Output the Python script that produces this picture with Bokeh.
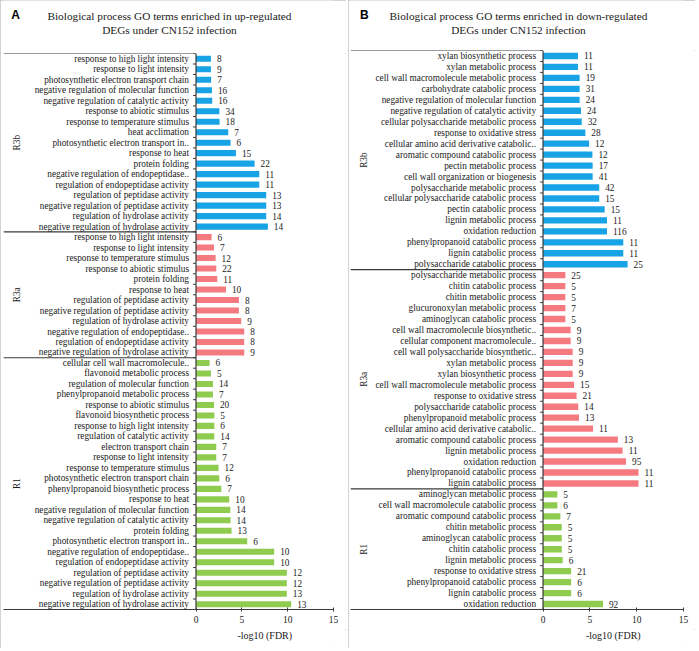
import math
from bokeh.plotting import figure
from bokeh.models import Range1d, FixedTicker, Span
from bokeh.layouts import row, column
from bokeh.embed import file_html
from bokeh.resources import INLINE
from bokeh.core.properties import value

# ---------------- Panel A (up-regulated) ----------------
A_R3b_terms = ["response to high light intensity", "response to light intensity",
               "photosynthetic electron transport chain", "negative regulation of molecular function",
               "negative regulation of catalytic activity", "response to abiotic stimulus",
               "response to temperature stimulus", "heat acclimation",
               "photosynthetic electron transport in..", "response to heat", "protein folding",
               "negative regulation of endopeptidase..", "regulation of endopeptidase activity",
               "regulation of peptidase activity", "negative regulation of peptidase activity",
               "regulation of hydrolase activity", "negative regulation of hydrolase activity"]
A_R3b_fdr = [1.63, 1.63, 1.65, 1.74, 1.77, 2.55, 2.57, 3.52, 3.77, 4.35, 6.39, 6.9, 6.9, 7.66, 7.66, 7.66, 7.84]
A_R3b_count = [8, 9, 7, 16, 16, 34, 18, 7, 6, 15, 22, 11, 11, 13, 13, 14, 14]

A_R3a_terms = ["response to high light intensity", "response to light intensity",
               "response to temperature stimulus", "response to abiotic stimulus", "protein folding",
               "response to heat", "regulation of peptidase activity",
               "negative regulation of peptidase activity", "regulation of hydrolase activity",
               "negative regulation of endopeptidase..", "regulation of endopeptidase activity",
               "negative regulation of hydrolase activity"]
A_R3a_fdr = [1.7, 1.96, 2.14, 2.21, 2.32, 3.27, 4.68, 4.68, 4.93, 5.26, 5.26, 5.26]
A_R3a_count = [6, 7, 12, 22, 11, 10, 8, 8, 9, 8, 8, 9]

A_R1_terms = ["cellular cell wall macromolecule..", "flavonoid metabolic process",
              "regulation of molecular function", "phenylpropanoid metabolic process",
              "response to abiotic stimulus", "flavonoid biosynthetic process",
              "response to high light intensity", "regulation of catalytic activity",
              "electron transport chain", "response to light intensity",
              "response to temperature stimulus", "photosynthetic electron transport chain",
              "phenylpropanoid biosynthetic process", "response to heat",
              "negative regulation of molecular function", "negative regulation of catalytic activity",
              "protein folding", "photosynthetic electron transport in..",
              "negative regulation of endopeptidase..", "regulation of endopeptidase activity",
              "regulation of peptidase activity", "negative regulation of peptidase activity",
              "regulation of hydrolase activity", "negative regulation of hydrolase activity"]
A_R1_fdr = [1.48, 1.63, 1.85, 1.85, 1.96, 2.0, 2.0, 2.0, 2.21, 2.21, 2.46, 2.54, 2.76, 3.63,
            3.74, 3.77, 3.88, 5.59, 8.53, 8.53, 9.91, 9.91, 9.91, 10.38]
A_R1_count = [6, 5, 14, 7, 20, 5, 6, 14, 7, 7, 12, 6, 7, 10, 14, 14, 13, 6, 10, 10, 12, 12, 13, 13]

# ---------------- Panel B (down-regulated) ----------------
B_R3b_terms = ["xylan biosynthetic process", "xylan metabolic process",
               "cell wall macromolecule metabolic process", "carbohydrate catabolic process",
               "negative regulation of molecular function", "negative regulation of catalytic activity",
               "cellular polysaccharide metabolic process", "response to oxidative stress",
               "cellular amino acid derivative catabolic..", "aromatic compound catabolic process",
               "pectin metabolic process", "cell wall organization or biogenesis",
               "polysaccharide metabolic process", "cellular polysaccharide catabolic process",
               "pectin catabolic process", "lignin metabolic process", "oxidation reduction",
               "phenylpropanoid catabolic process", "lignin catabolic process",
               "polysaccharide catabolic process"]
B_R3b_fdr = [3.73, 3.73, 3.91, 3.91, 3.91, 4.05, 4.13, 4.52, 4.91, 5.27, 5.3, 5.3, 6.0, 6.0,
             6.58, 6.83, 6.83, 8.57, 8.57, 9.03]
B_R3b_count = [11, 11, 19, 31, 24, 24, 32, 28, 12, 12, 17, 41, 42, 15, 15, 11, 116, 11, 11, 25]

B_R3a_terms = ["polysaccharide metabolic process", "chitin catabolic process",
               "chitin metabolic process", "glucuronoxylan metabolic process",
               "aminoglycan catabolic process", "cell wall macromolecule biosynthetic..",
               "cellular component macromolecule..", "cell wall polysaccharide biosynthetic..",
               "xylan metabolic process", "xylan biosynthetic process",
               "cell wall macromolecule metabolic process", "response to oxidative stress",
               "polysaccharide catabolic process", "phenylpropanoid metabolic process",
               "cellular amino acid derivative catabolic..", "aromatic compound catabolic process",
               "lignin metabolic process", "oxidation reduction",
               "phenylpropanoid catabolic process", "lignin catabolic process"]
B_R3a_fdr = [2.38, 2.38, 2.38, 2.38, 2.38, 2.95, 2.95, 3.17, 3.17, 3.17, 3.31, 3.58, 3.76, 3.84,
             5.34, 7.99, 8.5, 8.86, 10.2, 10.2]
B_R3a_count = [25, 5, 5, 7, 5, 9, 9, 9, 9, 9, 15, 21, 14, 13, 11, 13, 11, 95, 11, 11]

B_R1_terms = ["aminoglycan metabolic process", "cell wall macromolecule catabolic process",
              "aromatic compound catabolic process", "chitin metabolic process",
              "aminoglycan catabolic process", "chitin catabolic process", "lignin metabolic process",
              "response to oxidative stress", "phenylpropanoid catabolic process",
              "lignin catabolic process", "oxidation reduction"]
B_R1_fdr = [1.53, 1.53, 1.85, 2.0, 2.0, 2.0, 2.1, 3.0, 3.0, 3.0, 6.4]
B_R1_count = [5, 6, 7, 5, 5, 5, 6, 21, 6, 6, 92]

group_names = ["R3b", "R3a", "R1"]
x_ticks = [0, 5, 10, 15]
x_title = "-log10 (FDR)"
title_A = ["Biological process GO terms enriched in up-regulated", "DEGs under CN152 infection"]
title_B = ["Biological process GO terms enriched in down-regulated", "DEGs under CN152 infection"]

BLUE = "#17A3E6"
RED = "#F57A80"
GREEN = "#8FCB4E"
SERIF = "Liberation Serif"
LINE = "#3a3a3a"
TXT = "#1a1a1a"


def bare(width, height, x_range, y_range):
    f = figure(width=width, height=height, output_backend="svg", toolbar_location=None,
               x_range=x_range, y_range=y_range, x_axis_location=None, y_axis_location=None,
               title=None, min_border=0)
    f.outline_line_color = None
    f.xgrid.visible = False
    f.ygrid.visible = False
    return f


def panel(letter, titles, groups, width, head_h, x_start, mb_left, mb_right, letter_x, title_x):
    terms, fdr, cnt, col = [], [], [], []
    centers, bounds = [], []
    for t, f, c, color in groups:
        s = len(terms)
        terms += t
        fdr += f
        cnt += [str(v) for v in c]
        col += [color] * len(t)
        centers.append((s + len(terms) - 1) / 2)
        bounds.append(len(terms) - 0.5)
    n = len(terms)
    ys = list(range(n))

    # header with panel letter and two-line title (pixel coordinates)
    head = bare(width, head_h, Range1d(0, width), Range1d(head_h, 0))
    head.text(x=[letter_x], y=[14], text=[letter], text_align="left", text_baseline="middle",
              text_font=value("Liberation Sans"), text_font_style="bold",
              text_font_size="12px", text_color="#000000")
    head.text(x=[title_x, title_x], y=[15, 29], text=titles, text_align="center",
              text_baseline="middle", text_font=value(SERIF), text_font_size="11.3px",
              text_color=TXT)

    xr = Range1d(x_start, 15)
    main_h = 629 - head_h
    p = figure(width=width, height=main_h, output_backend="svg", toolbar_location=None,
               x_range=xr, y_range=Range1d(n - 0.5, -0.5),
               y_axis_location=None, title=None,
               min_border_top=0, min_border_bottom=20,
               min_border_left=mb_left, min_border_right=mb_right)
    p.outline_line_color = None
    p.xgrid.visible = False
    p.ygrid.visible = False

    p.hbar(y=ys, left=0, right=fdr, height=0.58, fill_color=col, line_color=None)

    p.text(x=[0] * n, y=ys, text=terms, x_offset=-7, text_align="right",
           text_baseline="middle", text_font=value(SERIF), text_font_size="9.3px", text_color=TXT)
    p.text(x=fdr, y=ys, text=cnt, x_offset=6, text_align="left",
           text_baseline="middle", text_font=value(SERIF), text_font_size="9.3px", text_color=TXT)
    p.text(x=[x_start] * len(group_names), y=centers, text=group_names, x_offset=13,
           angle=math.pi / 2, text_align="center", text_baseline="middle",
           text_font=value(SERIF), text_font_size="9.3px", text_color=TXT)

    seps = [-0.5] + bounds[:-1]
    p.segment(x0=[x_start] * len(seps), y0=seps, x1=[0] * len(seps), y1=seps,
              line_color=LINE, line_width=1.2)
    p.ray(x=[0] * (n + 1), y=[i - 0.5 for i in range(n + 1)], length=3,
          length_units="screen", angle=math.pi, line_color=LINE, line_width=1)
    p.add_layout(Span(location=0, dimension="height", line_color=LINE, line_width=1.2))

    ax = p.xaxis[0]
    ax.ticker = FixedTicker(ticks=x_ticks)
    ax.major_label_text_font = SERIF
    ax.major_label_text_font_size = "9.5px"
    ax.major_label_text_color = TXT
    ax.major_label_standoff = 4
    ax.axis_line_color = LINE
    ax.axis_line_width = 1.2
    ax.major_tick_line_color = LINE
    ax.major_tick_in = 2
    ax.major_tick_out = 2
    ax.minor_tick_line_color = None

    # footer holding the x-axis title, sharing the x range of the bars
    foot = figure(width=width, height=19, output_backend="svg", toolbar_location=None,
                  x_range=xr, y_range=Range1d(19, 0), x_axis_location=None,
                  y_axis_location=None, title=None, min_border_top=0, min_border_bottom=0,
                  min_border_left=mb_left, min_border_right=mb_right)
    foot.outline_line_color = None
    foot.xgrid.visible = False
    foot.ygrid.visible = False
    foot.text(x=[(x_ticks[0] + x_ticks[-1]) / 2], y=[6], text=[x_title], text_align="center",
              text_baseline="middle", text_font=value(SERIF), text_font_size="10px",
              text_color=TXT)

    col_layout = column(head, p, foot, spacing=0)
    col_layout.styles = {"outline": "1px solid #c4c4c4", "outline-offset": "-1px"}
    return col_layout


pA = panel("A", title_A,
           [(A_R3b_terms, A_R3b_fdr, A_R3b_count, BLUE),
            (A_R3a_terms, A_R3a_fdr, A_R3a_count, RED),
            (A_R1_terms, A_R1_fdr, A_R1_count, GREEN)],
           width=346, head_h=53, x_start=-21.0, mb_left=3, mb_right=13,
           letter_x=8, title_x=174)
pB = panel("B", title_B,
           [(B_R3b_terms, B_R3b_fdr, B_R3b_count, BLUE),
            (B_R3a_terms, B_R3a_fdr, B_R3a_count, RED),
            (B_R1_terms, B_R1_fdr, B_R1_count, GREEN)],
           width=347, head_h=50, x_start=-20.56, mb_left=2, mb_right=12,
           letter_x=10, title_x=175)

layout = row(pA, pB, spacing=2)
open("out.html", "w").write(file_html(layout, INLINE))
